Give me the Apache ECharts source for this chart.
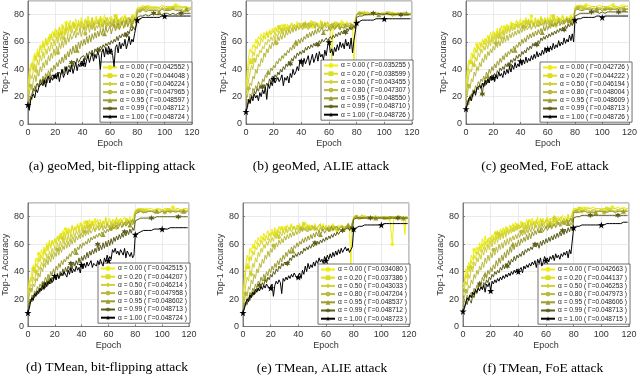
<!DOCTYPE html>
<html><head><meta charset="utf-8">
<script src="https://cdn.jsdelivr.net/npm/echarts@6/dist/echarts.min.js"></script>
<style>html,body{margin:0;padding:0;background:#fff}#c{width:640px;height:376px}</style>
</head><body><div id="c"></div>
<script>
const epochs = [];
for (let e = 0; e < 120; e++) epochs.push(e);
const xTicks = [0, 20, 40, 60, 80, 100, 120];
const yTicks = [0, 20, 40, 60, 80];
const alphas = ['0.00','0.20','0.50','0.80','0.95','0.99','1.00'];
const captions = ['(a) geoMed, bit-flipping attack','(b) geoMed, ALIE attack','(c) geoMed, FoE attack','(d) TMean, bit-flipping attack','(e) TMean, ALIE attack','(f) TMean, FoE attack'];
const gammaA = ['0.042552','0.044048','0.046224','0.047965','0.048597','0.048712','0.048724'];
const gammaB = ['0.035255','0.038599','0.043455','0.047307','0.048550','0.048710','0.048726'];
const gammaC = ['0.042726','0.044222','0.046194','0.048004','0.048609','0.048713','0.048726'];
const gammaD = ['0.042515','0.044207','0.046214','0.047958','0.048602','0.048713','0.048724'];
const gammaE = ['0.034080','0.037386','0.043033','0.047204','0.048537','0.048712','0.048723'];
const gammaF = ['0.042663','0.044137','0.046253','0.047973','0.048606','0.048713','0.048715'];

// (a) geoMed, bit-flipping
const a0=[25,38,44,42,48,52,47,55,50,58,56,61,54,63,60,58,66,62,68,64,70,65,62,71,67,73,66,70,74,68,72,76,69,74,70,77,72,75,71,78,73,70,76,74,79,72,75,78,73,76,79,74,77,72,78,75,80,73,77,76,74,79,76,72,78,80,75,77,73,79,76,80,74,78,77,75,80,77,79,78,85,86,85,86,87,86,85,86,86,87,86,85,86,87,86,86,85,86,87,86,86,87,86,85,86,87,86,86,87,86,87,86,86,85,86,87,86,86,85,86];
const a1=[22,34,40,45,41,50,46,53,49,57,52,59,56,62,57,64,60,66,61,67,63,69,64,71,66,68,72,65,73,69,74,67,71,75,70,73,68,76,72,70,75,72,77,70,74,76,71,78,74,72,77,73,75,79,72,76,74,78,71,76,78,73,76,74,79,72,77,75,78,74,77,79,73,76,78,74,77,80,76,79,84,85,86,85,84,86,85,86,85,85,86,85,84,85,86,85,85,86,85,84,85,86,85,86,85,84,85,86,85,86,85,86,85,85,86,85,84,85,86,85];
const a2=[18,28,36,33,40,44,39,47,43,50,46,53,48,55,51,57,53,60,55,62,57,64,59,66,61,68,63,65,70,64,69,72,66,70,74,67,71,73,68,75,70,73,69,76,71,74,72,77,70,75,73,76,71,77,74,70,76,73,78,72,75,77,72,76,74,78,71,75,77,73,76,74,78,72,77,75,79,73,76,78,84,85,84,85,86,84,85,84,85,85,84,85,86,85,84,85,85,84,85,86,85,84,85,85,86,84,85,85,84,85,86,85,84,85,85,86,84,85,85,84];
const a3=[15,22,28,25,32,36,31,39,35,42,38,45,41,47,43,50,46,52,48,55,50,57,52,59,55,61,56,63,58,64,60,66,62,64,68,63,67,65,70,64,68,71,66,70,73,67,72,69,74,68,72,70,75,69,73,71,76,70,74,72,75,71,73,77,70,74,76,72,75,73,77,71,75,74,78,72,76,74,77,75,83,84,83,84,85,84,83,84,84,85,84,83,84,85,84,84,83,84,85,84,84,85,84,83,84,84,85,84,84,83,84,85,84,84,83,84,85,84,84,85];
const a4=[15,14,20,18,24,28,25,30,27,33,30,35,32,37,34,39,36,41,38,43,40,45,42,47,44,49,45,51,47,53,49,55,51,57,52,58,54,60,55,61,57,62,58,64,59,65,60,66,62,67,63,68,64,69,65,70,66,71,67,69,72,66,70,73,68,71,74,69,72,75,70,73,76,71,74,77,72,75,78,74,82,83,82,83,84,83,82,83,83,84,83,82,83,84,83,83,82,83,84,83,83,84,83,82,83,83,84,83,83,82,83,84,83,83,82,83,84,83,83,84];
const a5=[14,12,20,22,26,24,28,30,27,32,29,33,31,34,30,35,33,32,36,34,33,37,35,38,36,40,37,42,39,41,43,40,45,42,46,44,48,45,47,49,48,50,47,52,49,53,51,54,50,55,53,56,54,57,55,58,56,59,57,60,58,61,59,62,60,64,61,65,63,66,64,67,65,68,66,70,68,71,69,72,78,79,79,80,79,80,80,80,79,80,80,80,81,80,80,81,80,81,80,81,81,80,81,81,80,81,81,81,80,81,81,81,81,80,81,81,81,81,81,81];
const a6=[14,10,17,20,22,19,25,23,27,26,30,28,32,27,33,35,30,34,32,36,35,33,38,31,36,40,34,37,42,36,40,38,43,37,41,45,39,44,42,46,44,48,42,47,50,45,49,52,46,51,48,53,50,40,52,55,49,56,51,57,53,55,50,42,56,58,52,60,55,59,57,62,55,59,64,58,62,60,66,65,76,77,77,77,78,77,78,78,78,78,78,78,78,78,78,79,78,79,79,78,79,79,79,78,79,79,79,79,79,79,79,79,79,79,79,79,79,79,79,79];
// (b) geoMed, ALIE
const b0=[27,40,50,55,52,58,56,62,60,64,62,66,63,67,65,68,64,69,66,70,67,71,68,72,69,70,73,68,72,70,73,69,72,74,70,73,71,75,72,70,74,71,73,75,70,74,72,76,71,73,75,72,74,70,76,73,71,75,72,74,70,73,46,72,75,71,74,70,73,76,72,74,71,75,73,70,74,72,45,73,81,81,80,81,82,81,80,81,81,82,81,80,81,81,82,81,80,81,81,80,81,82,81,80,81,81,82,81,80,81,81,80,81,82,81,81,80,81,81,80];
const b1=[24,32,42,48,45,53,50,57,55,60,57,63,60,65,62,67,63,68,65,66,69,65,70,67,71,68,66,72,69,71,68,72,70,74,69,73,71,70,74,72,70,73,71,75,72,69,74,71,73,75,71,74,72,70,75,73,71,74,72,75,73,70,74,72,71,75,72,74,70,73,75,71,74,72,73,70,74,71,73,72,80,81,81,80,81,81,80,81,82,81,80,81,81,80,81,82,81,80,81,81,80,81,81,82,81,80,81,81,80,81,82,81,80,81,81,80,81,82,81,80];
const b2=[20,26,33,38,43,40,47,45,51,49,54,52,57,55,60,58,62,60,64,61,65,62,66,64,68,65,69,66,70,67,71,68,72,69,70,73,68,72,70,74,71,73,70,74,72,69,73,71,75,72,70,74,72,73,71,75,70,73,72,74,71,73,70,74,72,71,73,70,74,72,70,73,71,74,72,70,73,71,72,70,80,81,80,81,81,80,81,82,81,80,81,81,80,81,81,82,80,81,81,80,81,80,81,81,82,81,80,81,81,80,81,81,80,81,82,81,81,80,81,81];
const b3=[18,20,26,30,28,35,33,40,37,44,42,48,45,52,49,55,52,58,55,60,57,62,59,64,61,65,62,67,63,68,65,69,66,70,67,71,68,72,69,70,72,69,73,70,71,74,70,72,71,73,70,74,71,72,70,73,71,74,70,72,73,70,72,71,74,70,72,73,69,72,71,73,70,72,71,74,70,72,71,70,80,80,81,80,81,80,80,81,80,81,80,81,80,80,81,80,81,80,80,81,80,80,81,80,81,80,80,81,80,80,81,80,80,81,80,81,80,80,81,80];
const b4=[16,18,15,22,20,26,24,28,26,31,29,27,33,31,36,34,38,36,41,39,43,41,46,44,48,46,50,48,52,50,54,52,56,54,58,55,60,57,62,59,63,60,64,62,66,63,67,64,68,65,69,66,70,67,68,71,67,69,70,68,71,68,70,72,69,71,70,73,69,71,72,70,73,71,70,72,71,73,70,72,80,80,81,80,81,81,80,81,80,81,81,80,81,81,80,81,80,81,81,80,81,81,80,81,80,81,81,80,81,81,80,81,81,80,81,80,81,81,80,81];
const b5=[10,14,18,16,21,19,24,22,26,24,28,26,27,29,27,30,28,33,31,35,33,36,34,38,36,40,38,42,40,44,42,46,44,48,46,50,48,52,50,53,51,54,52,56,54,57,55,58,56,59,57,60,58,61,59,62,60,61,63,61,62,64,62,65,63,66,64,67,65,68,66,69,67,70,68,71,69,70,72,70,78,79,79,80,79,80,80,80,80,80,80,80,81,80,80,80,81,80,80,81,80,80,81,80,80,81,80,80,80,81,80,81,80,80,80,81,80,80,80,80];
const b6=[9,12,18,15,20,17,22,19,21,17,23,20,25,22,27,18,29,26,31,28,33,30,32,34,31,33,36,28,34,32,35,30,37,34,40,36,38,42,39,47,46,42,48,44,45,50,43,47,51,45,48,52,46,53,49,51,47,54,50,57,60,52,55,50,56,53,58,54,60,56,59,55,62,57,60,55,63,52,61,62,74,75,75,75,76,75,76,76,76,76,76,76,76,76,77,76,77,76,77,77,77,77,77,77,77,77,77,77,77,77,77,77,77,77,77,77,77,77,77,77];
// (c) geoMed, FoE
const c0=[28,40,47,44,52,50,56,53,58,55,60,57,62,58,63,60,65,62,67,63,68,64,66,70,65,69,72,66,71,68,73,69,71,75,70,74,72,76,71,74,77,72,75,73,78,71,76,74,79,73,76,78,72,77,75,79,73,76,78,74,77,75,80,73,78,76,74,79,77,75,78,80,74,77,79,76,78,80,77,79,86,86,87,86,86,87,86,86,87,86,87,86,86,87,86,87,86,86,87,86,86,87,86,87,86,86,87,86,87,86,86,87,86,86,87,86,87,86,86,87];
const c1=[24,33,42,47,45,51,48,55,52,57,54,59,56,61,58,62,59,64,60,65,62,67,63,68,64,70,66,69,65,71,68,72,67,70,74,69,73,71,75,70,74,72,76,70,75,73,77,71,76,74,72,77,74,76,71,78,75,73,77,75,78,72,76,74,79,73,77,75,78,74,76,79,73,77,75,78,74,79,76,78,85,86,85,86,86,85,86,85,86,86,85,86,86,85,86,85,86,86,85,86,86,85,86,86,85,86,85,86,86,85,86,86,85,86,85,86,86,85,86,86];
const c2=[20,27,35,40,38,45,43,49,46,52,49,55,52,57,54,59,55,61,57,63,59,64,60,66,62,67,63,68,64,69,66,70,67,72,68,71,69,73,70,72,74,70,73,71,75,72,74,70,76,73,71,75,73,76,72,74,77,73,75,72,76,74,77,73,75,78,72,76,74,77,75,73,77,74,78,75,76,73,78,76,85,85,84,85,85,86,85,85,84,85,85,86,85,85,84,85,85,86,85,85,84,85,85,86,85,85,84,85,85,86,85,85,84,85,86,85,85,85,84,85];
const c3=[17,22,28,26,33,31,38,35,42,39,45,42,48,45,51,47,53,50,55,52,57,54,59,56,61,57,62,59,64,60,65,61,66,63,67,64,68,65,69,66,70,67,71,68,72,69,71,73,69,72,74,70,73,71,75,72,74,71,76,73,72,75,73,76,72,74,75,73,77,74,75,73,76,74,77,72,75,74,76,73,84,84,85,84,84,85,84,84,85,84,84,85,84,84,85,84,84,85,84,84,85,84,84,85,84,84,85,84,84,85,84,84,85,84,85,84,84,85,84,84];
const c4=[15,17,14,21,19,25,23,28,26,31,29,33,31,35,32,38,35,40,37,42,39,44,41,46,43,48,45,50,47,52,49,53,51,55,52,57,54,58,56,60,57,62,59,63,60,65,62,66,63,67,64,68,65,69,66,70,67,71,68,72,69,72,70,73,71,74,72,73,75,72,74,76,73,75,77,74,76,73,77,75,83,83,84,83,83,84,83,84,84,83,84,83,84,84,83,84,84,83,84,84,83,84,84,83,84,84,84,83,84,84,84,83,84,84,84,83,84,84,84,84];
const c5=[12,15,19,17,22,20,25,23,27,25,29,27,22,30,28,32,30,34,32,36,34,37,35,39,37,41,39,42,40,44,42,45,43,47,45,48,46,50,48,51,49,53,51,54,52,56,54,57,55,59,57,60,58,61,59,63,61,64,62,65,63,66,64,67,65,68,66,69,67,70,68,71,69,72,70,73,71,74,72,73,79,80,80,81,81,81,81,81,81,82,81,81,82,81,82,81,82,82,81,82,82,82,81,82,82,82,82,81,82,82,82,82,82,82,82,82,82,82,82,82];
const c6=[11,14,18,20,17,22,24,21,26,25,28,26,30,27,32,29,33,30,35,32,34,31,36,33,38,35,37,34,39,36,40,37,42,38,43,40,45,41,44,42,46,43,47,44,49,45,48,46,50,47,51,48,53,49,52,50,54,51,56,52,55,53,57,54,59,55,58,56,61,57,60,58,63,59,62,60,65,61,66,60,76,77,77,77,77,77,78,78,78,78,78,78,78,78,78,78,79,78,79,79,78,79,79,79,79,79,79,79,79,79,79,79,79,79,79,79,79,79,79,79];
// (d) TMean, bit-flipping
const d0=[25,34,32,40,45,42,50,47,53,49,56,52,58,54,61,57,63,58,62,60,64,61,66,62,68,64,70,65,71,67,72,68,70,74,69,73,71,75,70,76,72,74,77,71,75,73,78,72,76,74,79,73,76,75,78,72,77,75,80,74,77,79,73,76,78,75,80,74,77,79,76,78,80,75,79,77,80,76,78,77,85,85,86,85,86,86,85,86,85,86,86,85,86,86,85,86,86,85,86,86,85,86,86,85,86,85,86,86,87,86,86,85,86,86,85,86,86,85,86,86];
const d1=[23,30,36,33,42,39,46,43,50,47,52,49,56,52,59,55,61,57,63,59,64,60,66,62,65,68,63,69,65,70,67,71,68,73,69,72,70,74,71,73,75,70,74,72,76,71,75,73,77,72,75,74,78,72,76,74,77,73,79,75,74,77,75,78,73,76,79,74,77,75,78,76,74,79,75,77,76,78,74,77,84,85,85,84,85,85,86,85,85,85,85,85,84,85,85,86,85,85,84,85,85,86,85,85,85,84,85,85,86,85,85,85,86,85,84,85,85,85,86,85];
const d2=[20,26,31,29,36,33,40,37,44,41,47,44,50,46,53,49,55,51,57,53,59,55,61,56,62,58,64,60,66,61,67,62,68,64,69,65,70,67,71,66,72,68,73,70,74,69,73,71,75,72,70,74,72,76,71,75,73,74,72,76,74,72,76,73,75,77,72,76,74,75,77,73,76,74,78,75,77,74,76,78,84,84,85,84,85,84,84,85,84,85,84,85,84,85,84,84,85,84,85,84,85,84,84,85,84,85,84,84,85,84,84,85,84,84,85,84,85,84,84,85];
const d3=[17,22,27,25,31,29,35,33,39,36,43,40,46,43,49,45,51,47,53,49,54,51,56,52,58,54,59,56,61,57,62,58,64,60,65,61,66,63,67,64,68,65,69,66,70,67,71,68,70,72,69,71,73,70,72,74,70,73,71,75,72,74,71,75,73,72,76,73,75,74,76,73,75,77,74,76,75,77,74,76,83,84,84,83,84,84,83,84,84,84,84,83,84,84,84,83,84,84,83,84,84,84,83,84,84,84,83,84,84,84,83,84,84,84,83,84,84,84,83,84];
const d4=[14,19,17,23,21,26,24,29,27,31,29,33,31,36,33,38,35,40,37,42,39,44,41,46,43,48,45,49,47,51,49,53,51,55,53,57,54,58,56,60,57,61,59,62,60,64,61,65,63,66,64,67,65,68,66,69,67,70,68,71,69,72,70,73,71,72,74,71,73,75,72,74,76,73,75,77,74,76,78,75,82,83,83,83,84,83,83,84,83,84,84,83,84,84,83,84,84,84,83,84,84,84,83,84,84,84,84,83,84,84,84,84,84,83,84,84,84,84,84,84];
const d5=[11,16,20,18,23,21,25,23,27,25,29,27,31,28,33,30,34,31,36,33,37,34,39,35,40,37,42,38,43,40,44,41,46,42,47,44,48,45,50,46,51,48,52,49,54,50,55,52,56,53,57,54,60,55,59,56,61,57,62,58,63,59,64,60,65,62,66,63,67,64,68,65,69,66,70,67,71,68,72,70,77,78,78,78,79,79,79,79,79,79,79,79,79,80,79,80,80,80,80,80,80,80,80,80,80,80,80,80,80,80,80,80,80,80,80,80,80,80,80,80];
const d6=[10,13,18,21,19,24,22,26,24,28,26,30,27,32,29,33,31,35,32,34,37,34,38,35,36,39,37,40,38,36,41,38,43,39,42,40,44,41,43,39,45,42,46,43,47,44,45,48,43,46,47,44,48,45,49,46,44,50,47,52,48,51,49,56,54,57,53,55,52,56,54,52,57,50,55,53,51,54,50,52,67,68,68,69,69,69,70,70,70,70,70,70,70,71,71,71,71,71,71,71,71,71,71,71,71,71,72,71,72,72,72,72,72,72,72,72,72,72,72,72];
// (e) TMean, ALIE
const e0=[22,35,45,52,48,57,54,60,58,63,60,65,62,66,63,68,65,67,70,66,69,71,67,72,70,68,73,70,72,69,73,70,74,71,72,75,70,73,71,74,72,75,70,73,74,71,75,72,73,70,74,71,75,72,73,70,74,72,75,71,73,70,74,72,71,75,72,73,70,74,72,71,74,70,73,72,75,71,45,73,80,80,81,80,79,80,81,80,80,79,80,81,80,79,80,80,81,80,79,80,80,79,80,81,80,80,79,80,60,80,79,80,80,81,79,80,79,67,80,79];
const e1=[20,30,40,46,43,51,48,55,52,58,56,61,58,63,60,65,62,66,63,68,65,69,66,70,67,71,68,70,72,69,71,73,69,72,70,74,71,73,70,72,74,70,73,71,75,72,70,74,71,73,72,70,74,71,73,72,75,70,73,71,74,72,70,73,71,74,72,70,73,71,72,74,71,73,70,72,71,74,70,72,80,79,80,80,79,80,80,79,80,80,79,80,80,79,80,79,80,80,79,80,80,79,80,80,79,80,80,79,80,79,80,80,79,80,80,79,80,80,79,80];
const e2=[17,22,30,36,33,41,38,46,43,50,47,54,51,57,54,60,57,62,59,64,61,65,62,67,64,68,65,69,66,70,67,71,68,70,72,69,71,73,70,72,70,73,71,74,70,72,71,73,70,72,74,71,73,70,72,71,74,70,73,71,72,70,73,71,74,70,72,71,73,70,72,71,73,70,72,71,74,70,72,71,79,80,79,80,80,79,80,79,80,80,79,80,80,79,80,79,80,80,79,80,80,79,80,79,80,80,79,80,80,79,80,79,80,80,79,80,79,80,80,79];
const e3=[15,18,24,22,29,27,34,31,38,35,42,39,46,43,49,46,52,49,55,51,57,54,59,56,61,58,63,60,64,61,66,63,67,64,68,65,69,66,70,67,70,68,71,69,72,70,71,69,72,70,71,73,70,72,71,69,72,70,73,71,70,72,71,69,73,70,72,71,70,72,71,69,72,70,73,71,70,72,71,69,79,79,80,79,79,80,79,79,80,79,79,80,79,79,80,79,79,80,79,79,80,79,79,80,79,79,80,79,79,80,79,79,80,79,79,80,79,79,80,79];
const e4=[13,17,15,21,19,25,22,28,26,31,28,33,31,36,33,38,35,40,37,42,39,44,41,46,43,48,45,50,47,52,49,54,51,56,53,58,55,59,57,61,58,62,60,64,61,65,62,66,63,67,64,68,65,69,66,70,67,69,71,68,70,72,69,71,73,70,72,71,73,70,72,71,73,70,72,71,74,70,72,71,79,79,80,79,79,80,79,80,79,79,80,79,79,80,79,80,79,79,80,79,79,80,79,80,79,79,80,79,80,79,79,79,80,79,80,79,79,80,79,79];
const e5=[10,14,18,16,21,19,24,22,26,24,28,26,30,28,32,30,34,32,36,34,38,36,40,38,42,40,44,42,46,44,47,45,46,47,50,48,52,50,53,51,54,52,55,53,57,55,58,56,59,57,60,58,61,59,62,60,63,61,64,62,65,63,66,64,67,65,68,66,69,67,69,68,70,69,71,70,72,70,73,71,78,78,79,79,79,79,79,79,79,79,79,79,79,79,79,79,79,79,79,79,79,79,79,79,79,79,79,79,79,79,79,79,79,79,79,79,79,79,79,79];
const e6=[10,13,17,20,18,23,21,25,23,27,25,28,26,29,27,30,28,31,29,30,28,31,22,30,33,31,34,32,24,35,33,36,34,37,35,38,36,39,37,35,36,39,35,41,38,44,40,46,42,45,43,47,44,48,46,50,47,49,46,51,48,52,49,53,50,54,51,55,52,56,53,57,54,56,58,55,57,54,56,58,71,72,72,73,73,73,73,74,74,74,74,74,74,74,74,74,74,74,74,74,74,74,75,74,75,75,75,75,75,75,75,75,75,75,75,75,75,75,75,75];
// (f) TMean, FoE
const f0=[30,33,42,38,47,44,52,49,56,53,58,55,61,57,64,59,66,61,63,65,62,67,64,69,65,70,66,71,67,72,68,73,69,71,74,70,75,72,76,71,75,73,77,72,76,74,78,73,77,75,79,74,77,75,80,73,78,76,79,74,78,80,75,77,79,76,81,75,78,80,77,79,81,76,80,78,82,77,80,79,86,86,86,87,86,86,87,86,86,86,87,86,86,86,87,86,86,87,86,86,86,87,86,86,86,87,86,86,87,86,86,86,87,86,86,86,87,86,86,86];
const f1=[27,31,38,35,43,40,48,45,52,49,55,52,58,54,60,56,62,58,64,60,65,61,66,63,68,64,69,65,70,66,71,67,72,68,70,73,69,74,70,75,71,74,72,76,70,75,73,77,71,76,74,77,72,78,75,73,79,74,77,75,78,73,77,79,74,78,76,80,75,78,77,80,75,79,78,76,81,77,79,78,85,86,85,86,86,85,86,86,85,86,86,85,86,86,85,86,86,85,86,86,85,86,86,85,86,86,85,86,86,85,86,86,85,86,86,85,86,86,85,86];
const f2=[22,27,33,30,38,35,43,40,47,44,50,47,53,49,56,52,58,54,60,56,62,58,64,60,65,61,67,63,68,64,69,65,70,67,71,68,72,69,73,70,74,71,73,75,70,74,72,76,71,75,73,76,72,77,74,75,73,78,74,76,75,78,73,77,76,74,79,75,77,76,78,75,77,79,74,78,76,77,79,76,84,85,85,84,85,85,84,85,85,84,85,85,84,85,85,84,85,85,84,85,85,84,85,85,84,85,85,84,85,85,84,85,85,84,85,85,84,85,85,84];
const f3=[18,21,26,24,30,28,34,31,38,35,41,38,44,41,47,43,50,46,52,48,54,50,56,52,58,54,60,56,61,57,63,59,64,60,65,62,66,63,67,64,68,65,69,66,70,67,71,68,72,69,73,70,72,74,70,73,71,75,72,74,71,75,73,76,72,74,75,73,77,74,76,73,75,77,74,76,75,78,74,76,84,84,84,83,84,84,84,83,84,84,84,83,84,84,84,83,84,84,84,83,84,84,83,84,84,84,84,83,84,84,84,83,84,84,84,84,83,84,84,84];
const f4=[15,19,17,23,21,20,25,23,28,26,30,28,33,31,36,33,38,35,41,38,43,40,45,42,48,44,50,46,52,48,54,50,56,52,58,54,60,56,61,58,63,59,64,61,65,62,67,63,68,64,69,66,70,67,71,68,70,72,69,71,73,70,72,74,71,73,75,72,74,76,73,75,77,74,76,78,75,77,79,76,83,83,83,84,83,83,84,83,84,83,83,84,83,84,83,84,83,84,84,83,84,83,84,84,83,84,84,83,84,84,83,84,84,83,84,84,84,83,84,84];
const f5=[11,14,18,16,21,19,17,23,21,26,24,28,31,29,27,32,30,34,32,36,34,38,36,40,38,41,39,43,41,45,42,46,44,48,45,49,47,51,48,52,50,53,51,55,52,56,54,57,55,58,56,59,60,58,61,57,62,59,63,60,64,61,65,62,66,63,67,64,68,65,69,66,70,67,71,68,72,69,73,70,79,80,80,80,80,81,81,81,81,81,81,81,81,81,81,81,81,81,81,81,81,81,81,81,81,81,81,81,81,81,81,81,81,81,81,81,81,81,81,81];
const f6=[11,13,17,21,19,23,21,25,23,27,25,28,26,29,27,30,25,31,29,32,26,33,31,34,32,35,33,36,34,37,35,38,36,39,37,40,38,41,39,42,40,41,43,39,44,42,45,43,46,44,47,45,48,43,49,46,50,44,47,51,48,50,47,51,49,52,48,53,50,52,49,53,51,54,52,55,50,56,53,52,72,72,73,73,73,73,74,74,74,74,74,74,74,74,74,74,74,74,74,74,74,74,74,75,75,75,75,75,75,75,75,75,75,75,75,75,76,76,76,76];

const panels = [
  {vals:[a0,a1,a2,a3,a4,a5,a6], gam:gammaA},
  {vals:[b0,b1,b2,b3,b4,b5,b6], gam:gammaB},
  {vals:[c0,c1,c2,c3,c4,c5,c6], gam:gammaC},
  {vals:[d0,d1,d2,d3,d4,d5,d6], gam:gammaD},
  {vals:[e0,e1,e2,e3,e4,e5,e6], gam:gammaE},
  {vals:[f0,f1,f2,f3,f4,f5,f6], gam:gammaF}
];

// styling (not data)
const colors = ['#eeee10','#dede20','#d0d03a','#baba3e','#9c9c30','#5c5c1a','#000000'];
const STAR5 = 'path://M50,0 L61,35 L98,35 L68,57 L79,91 L50,70 L21,91 L32,57 L2,35 L39,35 Z';
const STAR6 = 'path://M50,0 L62,29 L93,25 L74,50 L93,75 L62,71 L50,100 L38,71 L7,75 L26,50 L7,25 L38,29 Z';
const symbols = ['circle','rect','diamond','circle','triangle',STAR6,STAR5];
const symSizes = [3.5,3.5,5,4,5,6,7];
const markOff = [8,4,6,2,16,12,0];
const gridPos = [
  {left:25,top:1,width:167,height:123},
  {left:246,top:1,width:166,height:123},
  {left:466,top:1,width:166,height:123},
  {left:23,top:203,width:166,height:123.5},
  {left:243,top:203,width:166,height:123.5},
  {left:463,top:203,width:166,height:123.5}
];
const legPos = [[100,62],[321,60],[540,62],[98,263],[318,264],[538,264]];
const capPos = [[112,166],[321,166],[545,166],[107,367],[322,368],[543,368]];

const FONT = 'Liberation Sans';
const grids=[], xAxes=[], yAxes=[], series=[], legends=[], graphics=[];
panels.forEach((p, k) => {
  const g = gridPos[k];
  grids.push({left:g.left, top:g.top, width:g.width, height:g.height, show:true, borderColor:'#666', borderWidth:0.8, containLabel:false});
  xAxes.push({gridIndex:k, type:'value', min:xTicks[0], max:xTicks[xTicks.length-1], interval:20,
    name:'Epoch', nameLocation:'middle', nameGap:15, nameTextStyle:{fontFamily:FONT,fontSize:9,color:'#333'},
    axisLine:{show:true,lineStyle:{color:'#666',width:0.8}}, axisTick:{inside:true,length:2,lineStyle:{color:'#666',width:0.8}},
    axisLabel:{fontFamily:FONT,fontSize:9,color:'#333',margin:4},
    splitLine:{show:true,lineStyle:{color:'#e3e3e3',width:0.7}}});
  yAxes.push({gridIndex:k, type:'value', min:yTicks[0], max:90, interval:20,
    name:'Top-1 Accuracy', nameLocation:'middle', nameGap:11, nameTextStyle:{fontFamily:FONT,fontSize:9,color:'#333'},
    axisLine:{show:true,lineStyle:{color:'#666',width:0.8}}, axisTick:{inside:true,length:2,lineStyle:{color:'#666',width:0.8}},
    axisLabel:{fontFamily:FONT,fontSize:9,color:'#333',margin:4,showMaxLabel:false},
    splitLine:{show:true,lineStyle:{color:'#e3e3e3',width:0.7}}});
  const names = [];
  p.vals.forEach((arr, j) => {
    const name = 'α = ' + alphas[j] + ' ( Γ=' + p.gam[j] + ' )';
    names.push(name);
    series.push({type:'line', name, xAxisIndex:k, yAxisIndex:k,
      data: epochs.map((e,i)=>[e, arr[i]]),
      symbol: symbols[j], showSymbol:true, showAllSymbol:true,
      symbolSize: (v, prm) => (prm.dataIndex % 20 === markOff[j] ? symSizes[j] : 0),
      lineStyle:{color:colors[j], width:1}, itemStyle:{color:colors[j]},
      color: colors[j], animation:false, silent:true, z: 2 + j});
  });
  legends.push({data:names, orient:'vertical', left:legPos[k][0], top:legPos[k][1],
    itemWidth:14, itemHeight:6, itemGap:1.2, padding:[2,3,2,2],
    backgroundColor:'#fff', borderColor:'#333', borderWidth:0.7, borderRadius:0,
    textStyle:{fontFamily:FONT, fontSize:6.6, color:'#222', padding:[0,0,0,-2]}, selectedMode:false});
  graphics.push({type:'text', x:capPos[k][0], y:capPos[k][1],
    style:{text:captions[k], font:'13.5px "Liberation Serif"', fill:'#000', align:'center', verticalAlign:'middle', textAlign:'center', textVerticalAlign:'middle'}});
});

const chart = echarts.init(document.getElementById('c'), null, {renderer:'canvas'});
chart.setOption({animation:false, backgroundColor:'#fff', grid:grids, xAxis:xAxes, yAxis:yAxes, series, legend:legends, graphic:graphics});
</script>
</body></html>
